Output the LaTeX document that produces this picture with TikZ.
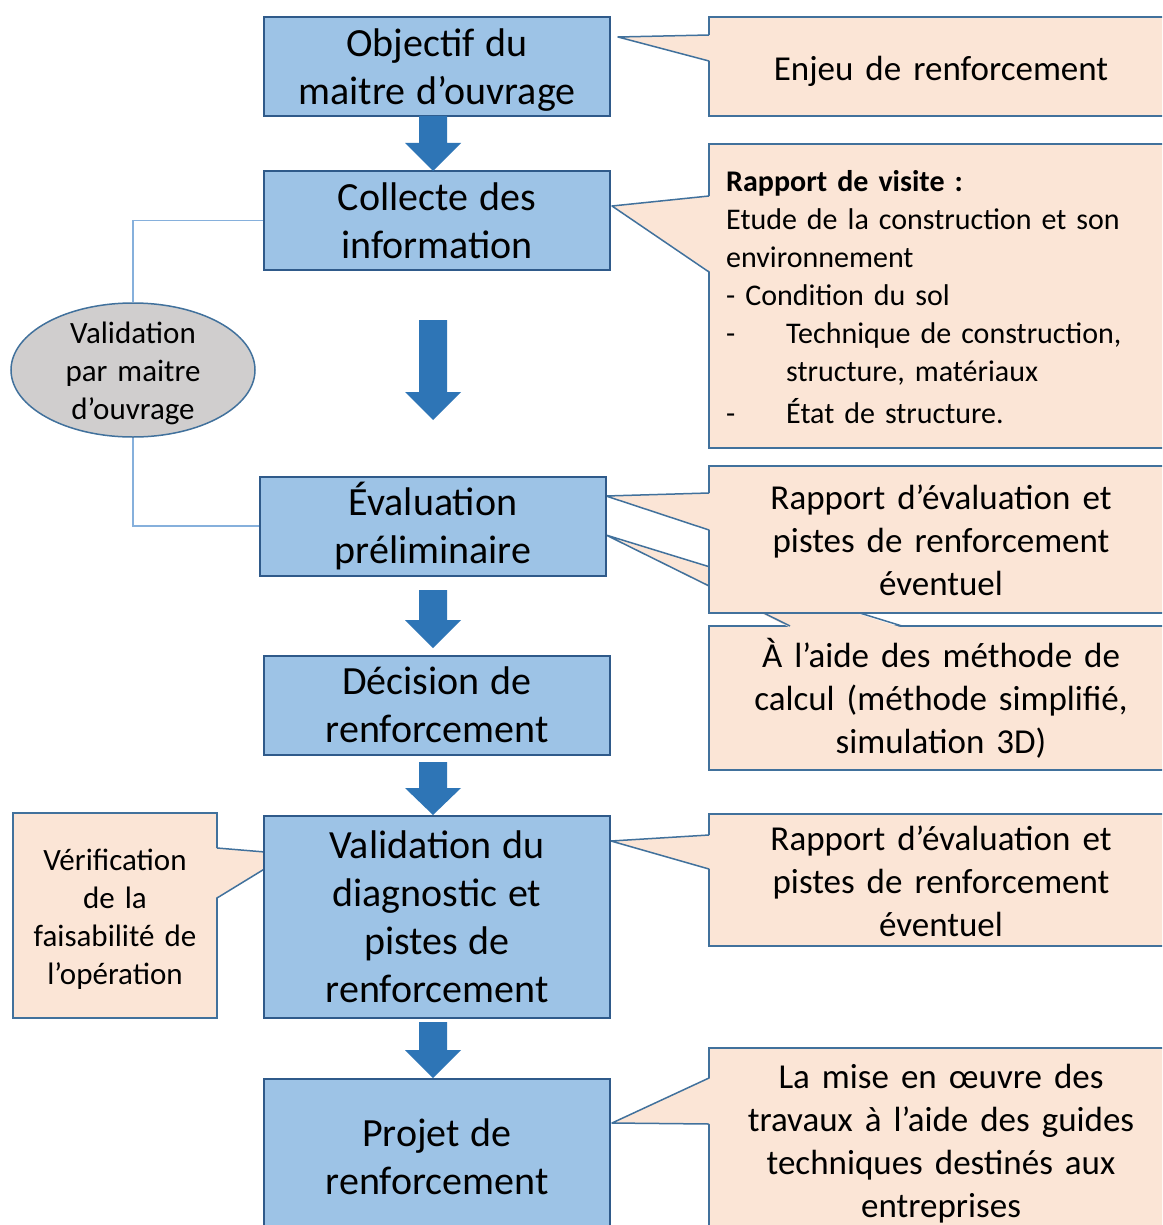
\documentclass[tikz,border=0pt]{standalone}
\usepackage{fontspec}
\setmainfont{Carlito}
\usetikzlibrary{shapes.geometric,calc}
\definecolor{boxfill}{HTML}{9DC3E6}
\definecolor{boxline}{HTML}{2F5A8A}
\definecolor{callfill}{HTML}{FBE5D6}
\definecolor{callline}{HTML}{41719C}
\definecolor{arrowfill}{HTML}{2E75B6}
\definecolor{ellfill}{HTML}{D0CECE}
\definecolor{linkline}{HTML}{86B0DC}
\newcommand\setwsp[1]{\spaceskip=#1\relax}
\newcommand\blockarrow[4]{%
  \fill[arrowfill] ({#1-14},#2) -- ({#1+14},#2) -- ({#1+14},#3) -- ({#1+28},#3)
    -- (#1,#4) -- ({#1-28},#3) -- ({#1-14},#3) -- cycle;}
\newcommand\leftptr[4]{% tipx, tipy, y1, y2  (pointer leaving the left edge x=709)
  \fill[callfill] (#1,#2) -- (710.6,#3) -- (710.6,#4) -- cycle;
  \draw[callline, line width=1.5pt, line join=round] (709,#3) -- (#1,#2) -- (709,#4);}
\begin{document}
\begin{tikzpicture}[x=1pt,y=-1pt,
  stepbox/.style={draw=boxline, line width=2pt, fill=boxfill, minimum width=346pt,
     minimum height=99pt, font=\fontsize{40}{48}\selectfont\setwsp{11pt},
     align=center, inner sep=0pt},
  callbox/.style={draw=callline, line width=1.5pt, fill=callfill, inner sep=0pt},
  calltext/.style={align=center, inner sep=0pt,
     font=\fontsize{35}{43}\selectfont\setwsp{12pt}},
  smalltext/.style={align=center, inner sep=0pt,
     font=\fontsize{31}{38}\selectfont\setwsp{10pt}},
  linkstyle/.style={draw=linkline, line width=1.2pt}]
\useasboundingbox (0,0) rectangle (1162,1225);
\clip (0,0) rectangle (1162,1225);
\fill[white] (0,0) rectangle (1162,1225);

% ---------- right callouts ----------
\node[callbox, minimum width=466pt, minimum height=99pt] (c1) at (942,66.5) {};
\leftptr{618}{37}{35}{61}
\node[calltext] (c1t) at (941,71.5) {Enjeu de renforcement};

\node[callbox, minimum width=466pt, minimum height=304pt] (c2) at (942,296) {};
\leftptr{612}{206}{196}{272}
\node[anchor=north west, inner sep=0pt, align=left,
  font=\fontsize{30}{38}\selectfont\setwsp{10pt}]
  (c2t) at (726,170) {\textbf{Rapport de visite :}\\
  Etude de la construction et son\\
  environnement\\
  - Condition du sol\\
  \makebox[60pt][l]{-}Technique de construction,\\
  \hspace*{60pt}structure, matériaux\\[4pt]
  \makebox[60pt][l]{-}État de structure.};

\node[callbox, minimum width=466pt, minimum height=144pt] (c4) at (942,698) {};
\node[calltext] (c4t) at (941,698) {À l'aide des méthode de\\calcul (méthode simplifié,\\simulation 3D)};
\fill[callfill] (606,535) -- (790,627.6) -- (902,627.6) -- cycle;
\draw[callline, line width=1.5pt, line join=round] (790,626) -- (606,535) -- (902,626);

\node[callbox, minimum width=466pt, minimum height=147pt] (c3) at (942,539.5) {};
\leftptr{606}{496}{493}{530}
\node[calltext] (c3t) at (941,540) {Rapport d'évaluation et\\pistes de renforcement\\éventuel};

\node[callbox, minimum width=466pt, minimum height=132pt] (c5) at (942,880) {};
\leftptr{611}{841}{835}{869}
\node[calltext] (c5t) at (941,881) {Rapport d'évaluation et\\pistes de renforcement\\éventuel};

\node[callbox, minimum width=466pt, minimum height=200pt] (c6) at (942,1148) {};
\leftptr{612}{1123}{1078}{1124}
\node[calltext] (c6t) at (941,1144)
  {La mise en œuvre des\\travaux à l'aide des guides\\techniques destinés aux\\entreprises};

% ---------- left callout ----------
\node[callbox, minimum width=204pt, minimum height=205pt] (c7) at (115,915.5) {};
\fill[callfill] (289,854) -- (215.4,848) -- (215.4,898) -- cycle;
\draw[callline, line width=1.5pt, line join=round] (217,848) -- (289,854) -- (217,898);
\node[smalltext] (c7t) at (115,919.5) {Vérification\\de la\\faisabilité de\\l'opération};

% ---------- main boxes ----------
\node[stepbox] (b1) at (437,66.5) {};
\node[stepbox, draw=none, fill=none] (b1t) at (437,70.5) {Objectif du\\maitre d'ouvrage};
\node[stepbox] (b2) at (437,220.5) {Collecte des\\information};
\node[stepbox] (b3) at (433,526) {Évaluation\\préliminaire};
\node[stepbox] (b4) at (437,705) {Décision de\\renforcement};
\node[stepbox, minimum height=202pt] (b5) at (437,917) {Validation du\\diagnostic et\\pistes de\\renforcement};
\node[stepbox, minimum height=156pt] (b6) at (437,1157) {Projet de\\renforcement};

% ---------- block arrows ----------
\blockarrow{433}{116}{143}{171}
\blockarrow{433}{320}{392}{420}
\blockarrow{433}{590}{620}{648}
\blockarrow{433}{762}{788}{815}
\blockarrow{433}{1022}{1050}{1078}

% ---------- validation ellipse ----------
\node[ellipse, draw=callline, line width=1.5pt, fill=ellfill, minimum width=244pt,
  minimum height=134pt, inner sep=0pt] (ell) at (133,370) {};
\node[smalltext] (ellt) at (133,373) {Validation\\par maitre\\d'ouvrage};
\draw[linkstyle] (ell.north) |- (b2.west);
\draw[linkstyle] (ell.south) |- (b3.west);
\end{tikzpicture}
\end{document}
